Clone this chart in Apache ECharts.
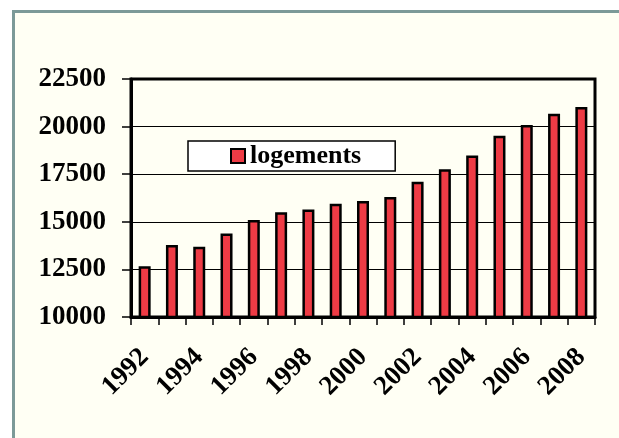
<!DOCTYPE html>
<html>
<head>
<meta charset="utf-8">
<script src="https://cdn.jsdelivr.net/npm/echarts@6/dist/echarts.min.js"></script>
<style>
html,body{margin:0;padding:0;background:#ffffff;}
#chart{width:619px;height:438px;}
</style>
</head>
<body>
<div id="chart"></div>
<script>
var years = ['1992','1993','1994','1995','1996','1997','1998','1999','2000','2001','2002','2003','2004','2005','2006','2007','2008'];
var logements = [12670,13780,13690,14390,15090,15500,15650,15950,16090,16300,17110,17760,18480,19520,20080,20670,21030];
var seriesName = 'logements';
var yMin = 10000, yMax = 22500, yStep = 2500;

var font = 'Liberation Serif';
var chart = echarts.init(document.getElementById('chart'), null, {renderer:'canvas'});
chart.setOption({
  animation:false,
  backgroundColor:'#ffffff',
  graphic:[{
    type:'rect', z:-10, silent:true,
    shape:{x:13.5, y:11.5, width:700, height:500},
    style:{fill:'#fffff4', stroke:'#7c9a98', lineWidth:3}
  }],
  grid:{left:131, right:24, top:79, bottom:121, show:true, backgroundColor:'#fffff4', borderColor:'#000', borderWidth:3},
  legend:{
    left:188, top:141,
    data:[seriesName],
    backgroundColor:'#ffffff', borderColor:'#000', borderWidth:1.5,
    padding:[2,34,2,42],
    itemWidth:14, itemHeight:14, itemGap:5,
    icon:'rect',
    itemStyle:{color:'#ee3b45', borderColor:'#000', borderWidth:2},
    textStyle:{fontFamily:font, fontWeight:'bold', fontSize:26, color:'#000'}
  },
  xAxis:{
    type:'category', data:years,
    axisLine:{lineStyle:{color:'#000', width:3}},
    axisTick:{show:true, interval:0, length:8, lineStyle:{color:'#000', width:1.5}},
    axisLabel:{interval:1, rotate:45, margin:36, fontFamily:font, fontWeight:'bold', fontSize:27, color:'#000'}
  },
  yAxis:{
    type:'value', min:yMin, max:yMax, interval:yStep,
    axisLine:{show:true, lineStyle:{color:'#000', width:3}},
    axisTick:{show:true, length:9, lineStyle:{color:'#000', width:1.5}},
    splitLine:{show:true, lineStyle:{color:'#000', width:1.2}},
    axisLabel:{margin:25, fontFamily:font, fontWeight:'bold', fontSize:27, color:'#000',
      formatter:function(v){return String(v);}}
  },
  series:[{
    name:seriesName, type:'bar', data:logements, barWidth:12,
    itemStyle:{color:'#ee3b45', borderColor:'#000', borderWidth:2.5}
  }]
});
</script>
</body>
</html>
